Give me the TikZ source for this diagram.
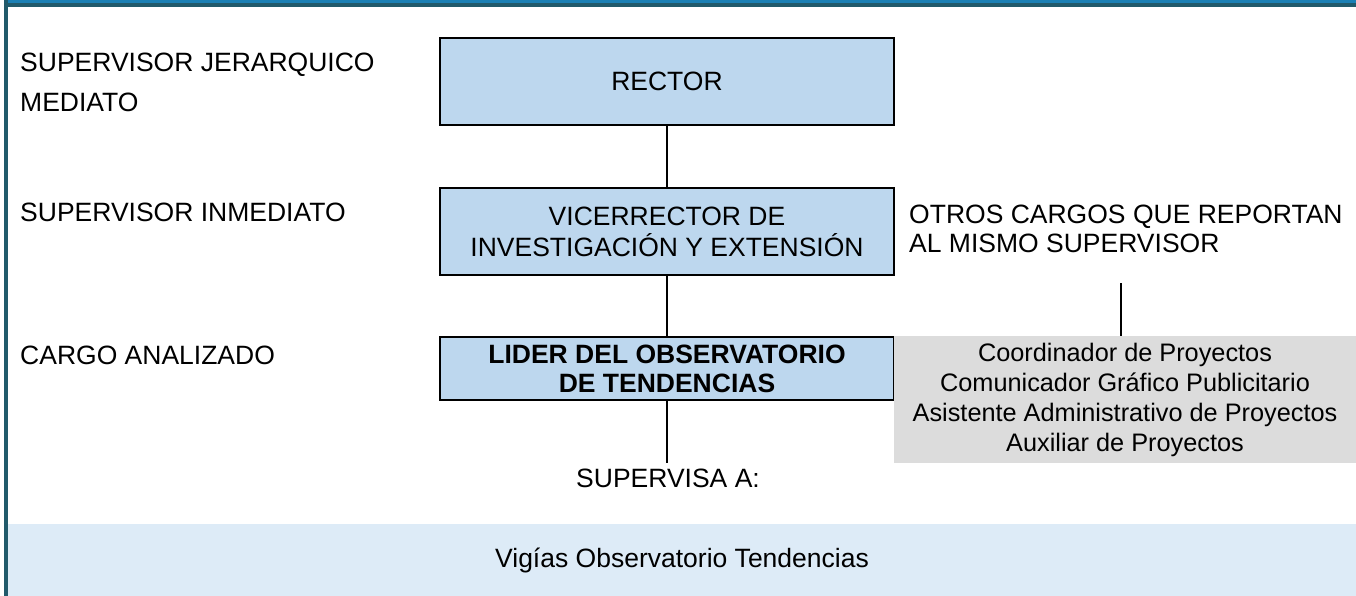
\documentclass[tikz,border=0pt]{standalone}
\usepackage{fontspec}
\setmainfont{Liberation Sans}
\definecolor{cargoblue}{HTML}{BDD7EE}
\definecolor{otrosgray}{HTML}{DCDCDC}
\definecolor{bandblue}{HTML}{DDEBF7}
\definecolor{barblue}{HTML}{1B80B5}
\definecolor{bardark}{HTML}{215A6B}
\begin{document}
\begin{tikzpicture}[x=1pt,y=-1pt,link/.style={line width=1.4pt},cargo/.style={draw, line width=1.7pt, fill=cargoblue, minimum width=454pt, align=center, font=\fontsize{26.5}{31}\selectfont},level/.style={anchor=north west, inner sep=0pt, align=left, font=\fontsize{26.5}{40}\selectfont}]
\useasboundingbox (0,0) rectangle (1356,596);
\fill[bardark] (4,0) rectangle (8,596); \fill[bardark] (8,3) rectangle (1356,7); \fill[barblue] (8,0) rectangle (1356,3);
\node[level] (mediato) at (20,53) {SUPERVISOR JERARQUICO\\MEDIATO};
\node[level] (inmediato) at (20,203) {SUPERVISOR INMEDIATO};
\node[level] (analizado) at (20,346) {CARGO ANALIZADO};
\node[cargo, minimum height=87pt] (rector) at (667,81.5) {RECTOR};
\node[cargo, minimum height=87pt] (vice) at (667,231.5) {VICERRECTOR DE\\INVESTIGACIÓN Y EXTENSIÓN};
\node[cargo, minimum height=63pt, font=\bfseries\fontsize{26.5}{29}\selectfont] (lider) at (667,368.5) {LIDER DEL OBSERVATORIO\\DE TENDENCIAS};
\node[level, font=\fontsize{26.5}{29}\selectfont] (otros) at (909,205) {OTROS CARGOS QUE REPORTAN\\AL MISMO SUPERVISOR};
\node[fill=otrosgray, minimum width=462pt, minimum height=127pt, align=center, font=\fontsize{25.3}{30}\selectfont] (grupo) at (1125,399.5) {Coordinador de Proyectos\\Comunicador Gráfico Publicitario\\Asistente Administrativo de Proyectos\\Auxiliar de Proyectos};
\coordinate (supend) at (667,463); \coordinate (otrosfoot) at (1121,283);
\draw[link] (rector) -- (vice); \draw[link] (vice) -- (lider); \draw[link] (lider) -- (supend);
\draw[link] (otrosfoot) -- (otrosfoot |- grupo.north);
\node[anchor=north, inner sep=0pt, font=\fontsize{26.5}{31}\selectfont] (supervisa) at (668,469) {SUPERVISA A:};
\node[fill=bandblue, minimum width=1348pt, minimum height=72pt, font=\fontsize{26.5}{31}\selectfont] (vigias) at (682,560) {Vigías Observatorio Tendencias};
\end{tikzpicture}
\end{document}
